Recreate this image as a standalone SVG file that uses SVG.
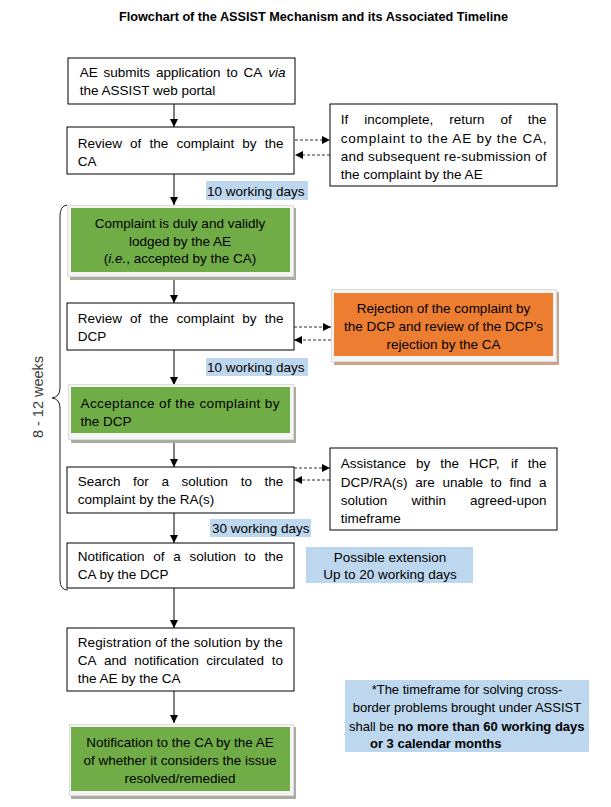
<svg xmlns="http://www.w3.org/2000/svg" width="611" height="807" viewBox="0 0 611 807">
<defs>
<style>
text{font-family:"Liberation Sans",Arial,sans-serif;font-size:13.5px;fill:#000}
.title{font-weight:bold;font-size:12.5px}
.box{fill:#fff;stroke:#000;stroke-width:1}
.lbl{fill:#bdd7ee}
.shadow{fill:#a8ad9f}
.frame{fill:#f4f4f4;stroke:#dcdcdc;stroke-width:1}
.green{fill:#70ad47}
.orange{fill:#ed7d31}
.flow{stroke:#000;stroke-width:1;fill:none}
.dash{stroke:#333;stroke-width:1;stroke-dasharray:3,2;fill:none}
.c{text-anchor:middle}
.b{font-weight:bold}
.sm{font-size:13px}
.weeks{font-size:14.5px;fill:#404040}
</style>
<marker id="ah" viewBox="0 0 8 8" refX="8" refY="4" markerWidth="8" markerHeight="8" markerUnits="userSpaceOnUse" orient="auto">
<path d="M0,0 L8,4 L0,8 z" fill="#000"/>
</marker>
</defs>
<rect width="611" height="807" fill="#fff"/>
<text class="title c" x="313.5" y="21" textLength="389" lengthAdjust="spacingAndGlyphs">Flowchart of the ASSIST Mechanism and its Associated Timeline</text>

<g id="connectors">
<line class="flow" x1="174" y1="104" x2="174" y2="127" marker-end="url(#ah)"/>
<line class="flow" x1="174" y1="174" x2="174" y2="205" marker-end="url(#ah)"/>
<line class="flow" x1="174" y1="277" x2="174" y2="303" marker-end="url(#ah)"/>
<line class="flow" x1="174" y1="350" x2="174" y2="385" marker-end="url(#ah)"/>
<line class="flow" x1="174" y1="440" x2="174" y2="467" marker-end="url(#ah)"/>
<line class="flow" x1="174" y1="513" x2="174" y2="543" marker-end="url(#ah)"/>
<line class="flow" x1="174" y1="588" x2="174" y2="628" marker-end="url(#ah)"/>
<line class="flow" x1="174" y1="691" x2="174" y2="723" marker-end="url(#ah)"/>
<line class="dash" x1="295" y1="140" x2="330" y2="140" marker-end="url(#ah)"/>
<line class="dash" x1="330" y1="155" x2="295" y2="155" marker-end="url(#ah)"/>
<line class="dash" x1="294" y1="327" x2="331" y2="327" marker-end="url(#ah)"/>
<line class="dash" x1="331" y1="340" x2="294" y2="340" marker-end="url(#ah)"/>
<line class="dash" x1="294" y1="468" x2="330" y2="468" marker-end="url(#ah)"/>
<line class="dash" x1="330" y1="480" x2="294" y2="480" marker-end="url(#ah)"/>
</g>

<g id="brace">
<path d="M67,205 Q60,206 60,216 L60,388 Q60,397 52,398 Q60,399 60,408 L60,580 Q60,590 68,590" fill="none" stroke="#222" stroke-width="1"/>
<text class="weeks c" transform="translate(43,397) rotate(-90)">8 - 12 weeks</text>
</g>

<g id="n1">
<rect class="box" x="68" y="58" width="227" height="46"/>
<text y="77"><tspan x="79.7">AE</tspan><tspan x="103.6">submits</tspan><tspan x="156">application</tspan><tspan x="226.4">to</tspan><tspan x="243.6">CA</tspan><tspan x="268.3" font-style="italic">via</tspan></text>
<text x="79.7" y="95">the ASSIST web portal</text>
</g>

<g id="n2">
<rect class="box" x="67" y="127" width="227" height="47"/>
<text y="148"><tspan x="77.7">Review</tspan><tspan x="130">of</tspan><tspan x="149.4">the</tspan><tspan x="176.4">complaint</tspan><tspan x="242.2">by</tspan><tspan x="264.7">the</tspan></text>
<text x="77.7" y="166">CA</text>
</g>

<g id="n2r">
<rect class="box" x="330" y="104" width="227" height="82"/>
<text y="124"><tspan x="340.8">If</tspan><tspan x="364.3">incomplete,</tspan><tspan x="449.3">return</tspan><tspan x="500.6">of</tspan><tspan x="527.7">the</tspan></text>
<text x="340.8" y="143" textLength="205.7" lengthAdjust="spacing">complaint to the AE by the CA,</text>
<text x="340.8" y="161" textLength="205.7" lengthAdjust="spacing">and subsequent re-submission of</text>
<text x="340.8" y="179">the complaint by the AE</text>
</g>

<g id="t1">
<rect class="lbl" x="206" y="181" width="102" height="19"/>
<text x="207" y="196">10 working days</text>
</g>

<g id="n3">
<rect class="shadow" x="70" y="208" width="226" height="72"/>
<rect class="frame" x="67.5" y="205.5" width="226" height="71"/>
<rect class="green" x="71" y="208" width="219" height="64"/>
<text class="c" x="180" y="228">Complaint is duly and validly</text>
<text class="c" x="180" y="246">lodged by the AE</text>
<text class="c" x="180" y="263">(<tspan font-style="italic">i.e.</tspan>, accepted by the CA)</text>
</g>

<g id="n4">
<rect class="box" x="67" y="303" width="227" height="47"/>
<text y="323"><tspan x="77.7">Review</tspan><tspan x="130">of</tspan><tspan x="149.4">the</tspan><tspan x="176.4">complaint</tspan><tspan x="242.2">by</tspan><tspan x="264.7">the</tspan></text>
<text x="77.7" y="341">DCP</text>
</g>

<g id="n4r">
<rect fill="#c8a58c" x="334" y="292" width="225" height="73"/>
<rect class="frame" x="331.5" y="289.5" width="225" height="72"/>
<rect class="orange" x="334" y="293" width="219" height="63"/>
<text class="c" x="443.5" y="313">Rejection of the complaint by</text>
<text class="c" x="443.5" y="331">the DCP and review of the DCP’s</text>
<text class="c" x="443.5" y="349">rejection by the CA</text>
</g>

<g id="t2">
<rect class="lbl" x="206" y="358" width="102" height="18"/>
<text x="207" y="372">10 working days</text>
</g>

<g id="n5">
<rect class="shadow" x="71" y="387" width="225" height="56"/>
<rect class="frame" x="68.5" y="384.5" width="225" height="55"/>
<rect class="green" x="71" y="387" width="219" height="46"/>
<text x="80.5" y="408" textLength="199" lengthAdjust="spacing">Acceptance of the complaint by</text>
<text x="80.5" y="426">the DCP</text>
</g>

<g id="n6">
<rect class="box" x="67" y="467" width="227" height="46"/>
<text y="486"><tspan x="77.7">Search</tspan><tspan x="133.1">for</tspan><tspan x="161.5">a</tspan><tspan x="181.6">solution</tspan><tspan x="240.7">to</tspan><tspan x="264.6">the</tspan></text>
<text x="77.7" y="504">complaint by the RA(s)</text>
</g>

<g id="n6r">
<rect class="box" x="330" y="448" width="227" height="82"/>
<text y="468"><tspan x="340.8">Assistance</tspan><tspan x="416">by</tspan><tspan x="440.2">the</tspan><tspan x="468.9">HCP,</tspan><tspan x="511.1">if</tspan><tspan x="527.7">the</tspan></text>
<text y="487"><tspan x="340.8">DCP/RA(s)</tspan><tspan x="415.2">are</tspan><tspan x="442.4">unable</tspan><tspan x="490.6">to</tspan><tspan x="509.6">find</tspan><tspan x="539.1">a</tspan></text>
<text x="340.8" y="505">solution</text>
<text x="411.4" y="505">within</text>
<text x="546.5" y="505" text-anchor="end">agreed-upon</text>
<text x="340.8" y="523">timeframe</text>
</g>

<g id="t3">
<rect class="lbl" x="210" y="519" width="101" height="18"/>
<text x="212" y="533">30 working days</text>
</g>

<g id="n7">
<rect class="box" x="67" y="543" width="227" height="45"/>
<text y="561"><tspan x="77.7">Notification</tspan><tspan x="153.2">of</tspan><tspan x="173.2">a</tspan><tspan x="189.4">solution</tspan><tspan x="244.6">to</tspan><tspan x="264.6">the</tspan></text>
<text x="77.7" y="579">CA by the DCP</text>
</g>

<g id="t4">
<rect class="lbl" x="306" y="547" width="167" height="36"/>
<text class="c" x="390" y="562">Possible extension</text>
<text class="c" x="390" y="579">Up to 20 working days</text>
</g>

<g id="n8">
<rect class="box" x="67" y="628" width="227" height="63"/>
<text x="77.7" y="647" textLength="205" lengthAdjust="spacing">Registration of the solution by the</text>
<text y="665"><tspan x="77.7">CA</tspan><tspan x="104.1">and</tspan><tspan x="134.2">notification</tspan><tspan x="206.3">circulated</tspan><tspan x="271.7">to</tspan></text>
<text x="77.7" y="683">the AE by the CA</text>
</g>

<g id="n9">
<rect class="shadow" x="71" y="727" width="225" height="72"/>
<rect class="frame" x="69.5" y="724.5" width="224" height="71"/>
<rect class="green" x="71" y="727" width="219" height="64"/>
<text class="c" x="180" y="747">Notification to the CA by the AE</text>
<text class="c" x="180" y="765">of whether it considers the issue</text>
<text class="c" x="180" y="783">resolved/remedied</text>
</g>

<g id="note">
<rect class="lbl" x="345" y="680" width="244" height="72"/>
<text class="c sm" x="467" y="694">*The timeframe for solving cross-</text>
<text class="c sm" x="467" y="712">border problems brought under ASSIST</text>
<text class="sm" x="349" y="731">shall be <tspan class="b">no more than 60 working days</tspan></text>
<text class="b sm" x="370" y="748">or 3 calendar months</text>
</g>
</svg>
